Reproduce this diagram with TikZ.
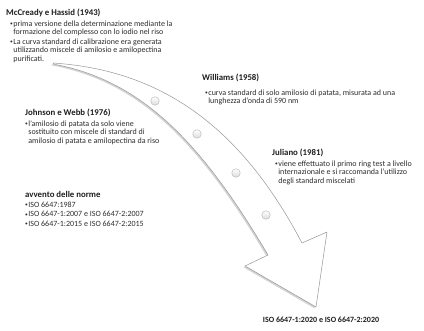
\documentclass[tikz,border=0pt]{standalone}
\usepackage{fontspec}
\setmainfont{Carlito}
\usetikzlibrary{shadows}
\definecolor{clrTtl} {RGB}{ 30, 30, 30}
\definecolor{clrTxt} {RGB}{ 45, 45, 45}
\definecolor{clrEdge}{RGB}{150,150,150}
\newcommand{\blt}{\makebox[3.2pt][l]{\raisebox{0.7pt}{\fontsize{5.5}{5.5}\selectfont\textbullet}}}
\newcommand{\ind}{\hspace*{3.2pt}}
\tikzset{
  ttl/.style={font=\fontsize{8.8}{10}\selectfont\bfseries, text=clrTtl, inner sep=0pt, anchor=west},
  body/.style={font=\fontsize{8}{8.4}\selectfont, text=clrTxt, inner sep=0pt, anchor=north west, align=left},
  band/.style={draw=clrEdge, fill=white, line width=0.5pt, line join=round,
    drop shadow={shadow xshift=-1.4pt, shadow yshift=-1.4pt, opacity=0.35, fill=gray}},
  milestone/.style={circle, minimum size=8.5pt, inner sep=0pt, draw=gray!60,
    top color=white, bottom color=gray!28},
}

\begin{document}
\begin{tikzpicture}[x=1pt, y=-1pt]
\useasboundingbox (0,0) rectangle (424,331);
% freccia curva
\draw[band] (53,63) .. controls (160,70) and (240,125) .. (302,243) -- (327,232) -- (316,307)
  -- (245,266) -- (268,255) .. controls (200,140) and (140,80) .. (53,64) -- cycle;
\node[milestone] (m1) at (155,101) {};
\node[milestone] (m2) at (197,134) {};
\node[milestone] (m3) at (236,173) {};
\node[milestone] (m4) at (266,215) {};
% McCready e Hassid
\node[ttl] (t1) at (6,13) {McCready e Hassid (1943)};
\node[body] (b1) at (10,20.5) {\blt prima versione della determinazione mediante la\\
  \ind formazione del complesso con lo iodio nel riso\\[1.2pt]
  \blt La curva standard di calibrazione era generata\\
  \ind utilizzando miscele di amilosio e amilopectina\\
  \ind purificati.};
% Williams
\node[ttl] (t2) at (202,78) {Williams (1958)};
\node[body] (b2) at (205,89.5) {\blt curva standard di solo amilosio di patata, misurata ad una\\
  \ind lunghezza d’onda di 590 nm};
% Johnson e Webb
\node[ttl] (t3) at (25,113) {Johnson e Webb (1976)};
\node[body] (b3) at (25,120.5) {\blt l’amilosio di patata da solo viene\\
  \ind sostituito con miscele di standard di\\
  \ind amilosio di patata e amilopectina da riso};
% Juliano
\node[ttl] (t4) at (272,153) {Juliano (1981)};
\node[body] (b4) at (275,160.5) {\blt viene effettuato il primo ring test a livello\\
  \ind internazionale e si raccomanda l’utilizzo\\
  \ind degli standard miscelati};
% norme
\node[ttl] (t5) at (25,194) {avvento delle norme};
\node[body] (b5) at (25,201.5) {\blt ISO 6647:1987\\[1.2pt]
  \blt ISO 6647-1:2007 e ISO 6647-2:2007\\[1.2pt]
  \blt ISO 6647-1:2015 e ISO 6647-2:2015};
\node[ttl, anchor=center, font=\fontsize{8}{9}\selectfont\bfseries] (iso) at (321,320) {ISO 6647-1:2020 e ISO 6647-2:2020};
\end{tikzpicture}
\end{document}
